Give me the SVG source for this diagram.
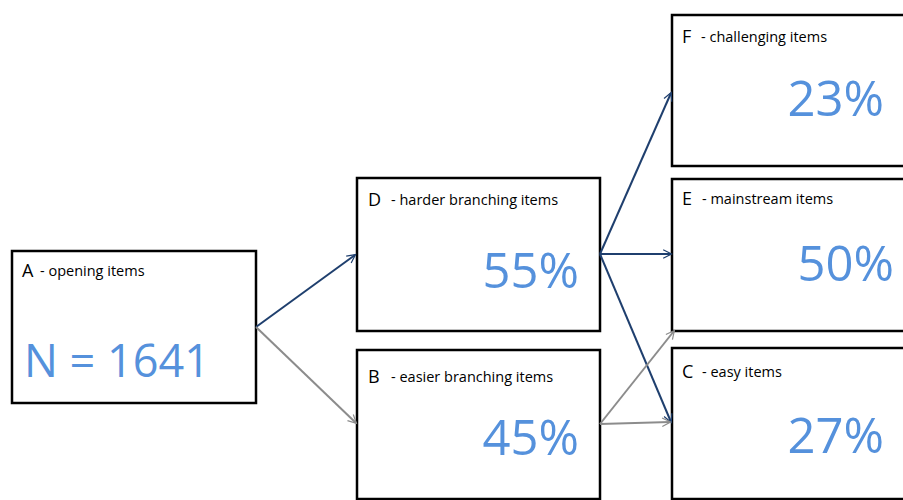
<svg xmlns="http://www.w3.org/2000/svg" width="903" height="500" viewBox="0 0 903 500">
<style>
.box{fill:#fff;stroke:#000;stroke-width:2.5}
.lt{font-family:"Open Sans","Liberation Sans",sans-serif;font-size:18px;fill:#000}
.st{font-family:"Open Sans","Liberation Sans",sans-serif;font-size:14.5px;fill:#000}
.big{font-family:"Open Sans","Liberation Sans",sans-serif;font-size:49px;fill:#5591DC}
.n{font-size:45px}
.dk{stroke:#1F3F6E;stroke-width:2;fill:none;marker-end:url(#ad)}
.gr{stroke:#8C8C8C;stroke-width:2;fill:none;marker-end:url(#ag)}
</style>
<defs>
<marker id="ad" viewBox="0 0 10 10" refX="9" refY="5" markerWidth="6" markerHeight="6" markerUnits="userSpaceOnUse" orient="auto" overflow="visible">
<path d="M-4,-2 L10,5 L-4,12" fill="none" stroke="#1F3F6E" stroke-width="2"/>
</marker>
<marker id="ag" viewBox="0 0 10 10" refX="9" refY="5" markerWidth="6" markerHeight="6" markerUnits="userSpaceOnUse" orient="auto" overflow="visible">
<path d="M-4,-2 L10,5 L-4,12" fill="none" stroke="#8C8C8C" stroke-width="2"/>
</marker>
</defs>
<rect width="903" height="500" fill="#fff"/>
<g id="nodeA">
<rect class="box" x="12" y="251" width="244" height="152"/>
<text class="lt" x="22" y="277">A</text>
<text class="st" x="40" y="276">- opening items</text>
<text class="big n" x="24" y="377">N = 1641</text>
</g>
<g id="nodeD">
<rect class="box" x="357" y="178" width="243" height="153"/>
<text class="lt" x="368" y="206">D</text>
<text class="st" x="391" y="205">- harder branching items</text>
<text class="big" x="579" y="288" text-anchor="end">55%</text>
</g>
<g id="nodeB">
<rect class="box" x="357" y="350" width="243" height="149"/>
<text class="lt" x="368" y="383">B</text>
<text class="st" x="391" y="382">- easier branching items</text>
<text class="big" x="579" y="455" text-anchor="end">45%</text>
</g>
<g id="nodeF">
<rect class="box" x="672" y="15" width="240" height="151"/>
<text class="lt" x="682" y="43">F</text>
<text class="st" x="701" y="42">- challenging items</text>
<text class="big" x="884" y="116" text-anchor="end">23%</text>
</g>
<g id="nodeE">
<rect class="box" x="672" y="179" width="240" height="152"/>
<text class="lt" x="682" y="205">E</text>
<text class="st" x="702" y="204">- mainstream items</text>
<text class="big" x="894" y="281" text-anchor="end">50%</text>
</g>
<g id="nodeC">
<rect class="box" x="672" y="348" width="240" height="151"/>
<text class="lt" x="682" y="378">C</text>
<text class="st" x="702" y="377">- easy items</text>
<text class="big" x="884" y="453" text-anchor="end">27%</text>
</g>
<g id="connectors">
<line class="dk" x1="256" y1="327" x2="355" y2="255"/>
<line class="gr" x1="256" y1="327" x2="356" y2="423"/>
<line class="dk" x1="600" y1="254" x2="671" y2="93"/>
<line class="dk" x1="600" y1="254" x2="671" y2="254"/>
<line class="dk" x1="600" y1="254" x2="671" y2="422"/>
<line class="gr" x1="600" y1="424" x2="674" y2="331"/>
<line class="gr" x1="600" y1="424" x2="670" y2="422"/>
</g>
</svg>
